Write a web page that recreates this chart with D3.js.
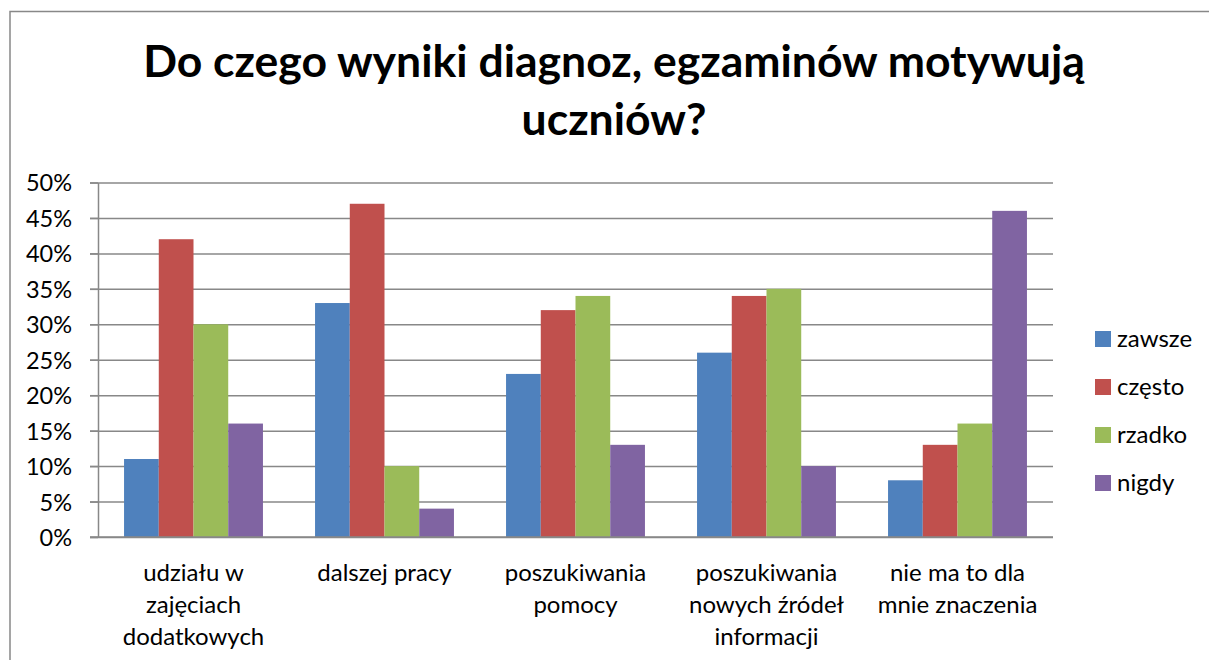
<!DOCTYPE html>
<html>
<head>
<meta charset="utf-8">
<style>
    body {
      margin: 0;
      overflow: hidden;
      background: white;
    }
    text {
      font-family: Lato, "Open Sans", sans-serif;
      fill: black;
    }
    .grid line {
      stroke: #888;
      stroke-width: 1.5;
    }
</style>
<script src="https://d3js.org/d3.v7.min.js"></script>
</head>
<body>
<svg></svg>
<script>
var titleLines = ["Do czego wyniki diagnoz, egzaminów motywują", "uczniów?"];

var categories = [
  "udziału w\nzajęciach\ndodatkowych",
  "dalszej pracy",
  "poszukiwania\npomocy",
  "poszukiwania\nnowych źródeł\ninformacji",
  "nie ma to dla\nmnie znaczenia"
];

var series = ["zawsze", "często", "rzadko", "nigdy"];
var colors = ["#4F81BD", "#C0504D", "#9BBB59", "#8064A2"];

var zawsze = [0.11, 0.33, 0.23, 0.26, 0.08],
    czesto = [0.42, 0.47, 0.32, 0.34, 0.13],
    rzadko = [0.30, 0.10, 0.34, 0.35, 0.16],
    nigdy  = [0.16, 0.04, 0.13, 0.10, 0.46];

var values = [zawsze, czesto, rzadko, nigdy];

var yTicks = [0, 0.05, 0.1, 0.15, 0.2, 0.25, 0.3, 0.35, 0.4, 0.45, 0.5];

var width = 1209,
    height = 660;

var plot = {left: 98, right: 1053, top: 182.5, bottom: 537};

var svg = d3.select("svg")
    .attr("width", width)
    .attr("height", height);

// chart frame
svg.append("rect")
    .attr("x", 10)
    .attr("y", 11.5)
    .attr("width", 1240)
    .attr("height", 700)
    .style("fill", "white")
    .style("stroke", "#888")
    .style("stroke-width", 1.5);

svg.append("g").selectAll("text")
    .data(titleLines)
  .enter().append("text")
    .attr("x", 614)
    .attr("y", function(d, i) {return 77 + i * 58})
    .attr("text-anchor", "middle")
    .style("font-size", "44.5px")
    .style("font-weight", "bold")
    .text(function(d) {return d});

var x0 = d3.scaleBand()
    .domain(d3.range(categories.length))
    .range([plot.left, plot.right]);

var x1 = d3.scaleBand()
    .domain(d3.range(series.length))
    .range([0, x0.bandwidth()])
    .paddingOuter(0.75);

var y = d3.scaleLinear()
    .domain([0, 0.5])
    .range([plot.bottom, plot.top]);

// gridlines with tick marks
svg.append("g")
    .attr("class", "grid")
    .attr("transform", "translate(" + plot.left + ",0)")
    .call(d3.axisLeft(y).tickValues(yTicks).tickSize(-(plot.right - plot.left)).tickFormat(""))
    .call(function(g) {g.select(".domain").remove()})
    .selectAll("line")
    .attr("x1", -8);

// y axis labels and line
var yAxis = svg.append("g")
    .attr("transform", "translate(" + plot.left + ",0)")
    .call(d3.axisLeft(y).tickValues(yTicks).tickSize(8).tickSizeOuter(0)
      .tickPadding(18).tickFormat(d3.format(".0%")));

yAxis.select(".domain").style("stroke", "#888").style("stroke-width", 1.5);
yAxis.selectAll(".tick line").style("stroke", "#888").style("stroke-width", 1.5);
yAxis.selectAll(".tick text")
    .attr("dy", "0.36em")
    .style("font-family", "Lato, 'Open Sans', sans-serif")
    .style("font-size", "23.5px")
    .style("fill", "black");

// bars
var groups = svg.append("g").selectAll("g")
    .data(categories)
  .enter().append("g")
    .attr("transform", function(d, i) {return "translate(" + x0(i) + ",0)"});

groups.selectAll("rect")
    .data(function(d, i) {return values.map(function(v, s) {return {s: s, v: v[i]}})})
  .enter().append("rect")
    .attr("x", function(d) {return x1(d.s)})
    .attr("width", x1.bandwidth())
    .attr("y", function(d) {return y(d.v)})
    .attr("height", function(d) {return y(0) - y(d.v)})
    .style("fill", function(d) {return colors[d.s]});

// x axis line
svg.append("line")
    .attr("x1", plot.left - 8)
    .attr("x2", plot.right)
    .attr("y1", y(0))
    .attr("y2", y(0))
    .style("stroke", "#888")
    .style("stroke-width", 1.5);

// category labels
groups.append("text")
    .attr("text-anchor", "middle")
    .style("font-size", "24px")
    .selectAll("tspan")
    .data(function(d) {return d.split("\n")})
  .enter().append("tspan")
    .attr("x", x0.bandwidth() / 2)
    .attr("y", function(d, i) {return 581 + i * 32})
    .text(function(d) {return d});

// legend
var legend = svg.append("g").selectAll("g")
    .data(series)
  .enter().append("g")
    .attr("transform", function(d, i) {return "translate(1095," + (331 + i * 48) + ")"});

legend.append("rect")
    .attr("width", 16)
    .attr("height", 16)
    .style("fill", function(d, i) {return colors[i]});

legend.append("text")
    .attr("x", 22)
    .attr("y", 15.5)
    .style("font-size", "24px")
    .text(function(d) {return d});
</script>
</body>
</html>
